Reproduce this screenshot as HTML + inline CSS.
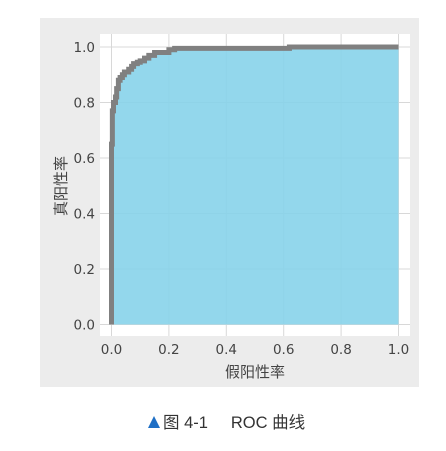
<!DOCTYPE html>
<html><head><meta charset="utf-8"><style>
body{margin:0;background:#fff;width:446px;height:451px;overflow:hidden;font-family:"Liberation Sans","Noto Sans CJK SC",sans-serif;}
</style></head><body>
<svg id="c" width="446" height="451" style="position:absolute;left:0;top:0">
<rect x="40" y="18" width="379" height="369" fill="#ececec"/>
<rect x="100" y="34" width="310" height="302" fill="#ffffff"/>
<g id="grid"></g><g id="marks"></g><g id="ticks"></g>
<text x="255" y="377" text-anchor="middle" font-size="15" fill="#444">假阳性率</text>
<text transform="translate(66,186) rotate(-90)" text-anchor="middle" font-size="15" fill="#444">真阳性率</text>
<polygon points="148,428 154,416 160,428" fill="#1f6fc5"/>
<text x="163" y="428" font-size="16.5" fill="#333" xml:space="preserve">图 4-1     ROC 曲线</text>
</svg>
<script>
const fpr=[0,0,0.003,0.003,0.007,0.014,0.018,0.024,0.03,0.038,0.045,0.06,0.07,0.077,0.09,0.10,0.115,0.13,0.15,0.17,0.20,0.22,0.24,0.62,1.0];
const tpr=[0,0.65,0.69,0.77,0.80,0.82,0.85,0.88,0.89,0.90,0.91,0.92,0.93,0.94,0.945,0.95,0.96,0.97,0.98,0.98,0.99,0.995,0.995,1.0,1.0];
const ticks=[0,0.2,0.4,0.6,0.8,1.0];
const tickLabels=["0.0","0.2","0.4","0.6","0.8","1.0"];
const X=v=>111.5+v*287, Y=v=>324.5-v*277.5;
const NS="http://www.w3.org/2000/svg";
function mk(p,t,a){const e=document.createElementNS(NS,t);for(const k in a)e.setAttribute(k,a[k]);document.getElementById(p).appendChild(e);return e;}
ticks.forEach((t,i)=>{
 let g=mk('grid','line',{x1:X(t),x2:X(t),y1:34,y2:336,stroke:'#d8d8d8','stroke-width':1});
 
 
 g=mk('grid','line',{x1:100,x2:410,y1:Y(t),y2:Y(t),stroke:'#d8d8d8','stroke-width':1});
 
 
 let l=mk('ticks','text',{x:X(t),y:354,'text-anchor':'middle','font-size':13.5,fill:'#444','font-family':'DejaVu Sans, sans-serif'});l.textContent=tickLabels[i];
 
 
 l=mk('ticks','text',{x:95,y:Y(t)+5,'text-anchor':'end','font-size':13.5,fill:'#444','font-family':'DejaVu Sans, sans-serif'});l.textContent=tickLabels[i];
 
 
});
let d='M'+X(fpr[0])+','+Y(tpr[0]);
for(let i=1;i<fpr.length;i++){d+=' L'+X(fpr[i])+','+Y(tpr[i-1])+' L'+X(fpr[i])+','+Y(tpr[i]);}
const area=mk('marks','path',{d:d+' L'+X(1)+','+Y(0)+' Z',fill:'#87d3ea','fill-opacity':0.9});


const line=mk('marks','path',{d:d,fill:'none',stroke:'#808080','stroke-width':5});


</script>
</body></html>
